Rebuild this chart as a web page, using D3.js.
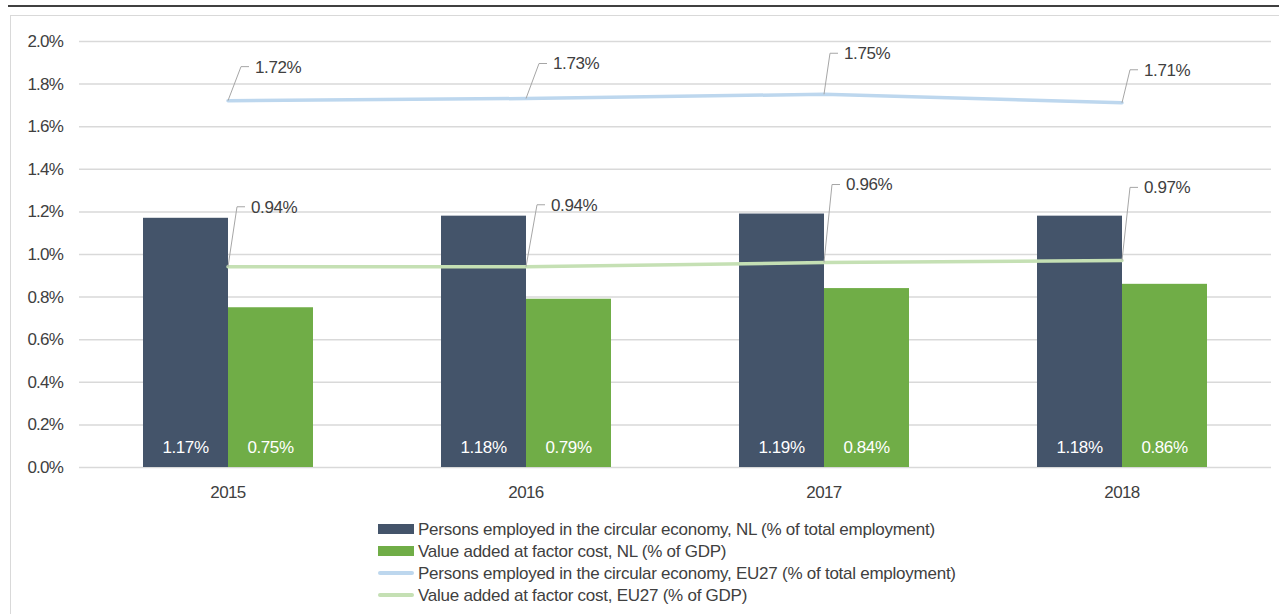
<!DOCTYPE html>
<html>
<head>
<meta charset="utf-8">
<script src="https://cdn.jsdelivr.net/npm/d3@7"></script>
<style>
  body { margin: 0; background: #fff; }
  text { font-family: "Liberation Sans", Arial, sans-serif; fill: #404040; }
</style>
</head>
<body>
<div id="chart"></div>
<script>
var years = ["2015", "2016", "2017", "2018"];
var employedNL = [1.17, 1.18, 1.19, 1.18];
var valueAddedNL = [0.75, 0.79, 0.84, 0.86];
var employedEU = [1.72, 1.73, 1.75, 1.71];
var valueAddedEU = [0.94, 0.94, 0.96, 0.97];
var yTicks = [0, 0.2, 0.4, 0.6, 0.8, 1.0, 1.2, 1.4, 1.6, 1.8, 2.0];
var legendNames = [
  "Persons employed in the circular economy, NL (% of total employment)",
  "Value added at factor cost, NL (% of GDP)",
  "Persons employed in the circular economy, EU27 (% of total employment)",
  "Value added at factor cost, EU27 (% of GDP)"
];

// leader-line label offsets (label anchor relative to point)
var euEmpOffsets = [[13, -34], [13, -35], [6, -41], [8, -33]];
var euValOffsets = [[9, -60], [11, -62], [8, -78], [8, -73]];

var width = 1279, height = 614;
var margin = {left: 79, right: 8, top: 41, bottom: 147};
var fs = 17;

var svg = d3.select("#chart").append("svg")
    .attr("width", width)
    .attr("height", height);

// top rule and frame
svg.append("line")
    .attr("x1", 8).attr("x2", width)
    .attr("y1", 6).attr("y2", 6)
    .attr("stroke", "#000").attr("stroke-width", 1.5);
svg.append("rect")
    .attr("x", 10.5).attr("y", 15.5)
    .attr("width", width).attr("height", height)
    .attr("fill", "none").attr("stroke", "#D9D9D9");

var x = d3.scaleBand()
    .domain(years)
    .range([margin.left, width - margin.right]);

var y = d3.scaleLinear()
    .domain([0, 2.0])
    .range([height - margin.bottom, margin.top]);

var barW = 85;

// gridlines + y labels
var yAxis = d3.axisLeft(y)
    .tickValues(yTicks)
    .tickSize(-(width - margin.right - margin.left))
    .tickPadding(16)
    .tickFormat(function(d) { return d.toFixed(1) + "%"; });

var gy = svg.append("g")
    .attr("transform", "translate(" + margin.left + ",0)")
    .call(yAxis);
gy.select(".domain").remove();
gy.selectAll(".tick line").attr("stroke", "#D9D9D9").attr("stroke-width", 1.5);
gy.selectAll(".tick text")
    .attr("font-size", fs)
    .attr("letter-spacing", -0.8)
    .attr("fill", "#404040");

// x labels
var gx = svg.append("g")
    .attr("transform", "translate(0," + y(0) + ")")
    .call(d3.axisBottom(x).tickSize(0).tickPadding(19));
gx.select(".domain").remove();
gx.selectAll(".tick text")
    .attr("font-size", fs)
    .attr("letter-spacing", -0.6)
    .attr("fill", "#404040");

// bars
function drawBars(vals, color, shift) {
  svg.append("g").selectAll("rect")
      .data(vals)
    .enter().append("rect")
      .attr("x", function(d, i) { return x(years[i]) + x.bandwidth() / 2 + shift; })
      .attr("y", function(d) { return y(d); })
      .attr("width", barW)
      .attr("height", function(d) { return y(0) - y(d); })
      .attr("fill", color);
  svg.append("g").selectAll("text")
      .data(vals)
    .enter().append("text")
      .attr("x", function(d, i) { return x(years[i]) + x.bandwidth() / 2 + shift + barW / 2; })
      .attr("y", y(0) - 20)
      .attr("dy", "0.35em")
      .attr("text-anchor", "middle")
      .attr("font-size", fs)
      .attr("letter-spacing", -0.4)
      .style("fill", "#fff")
      .text(function(d) { return d.toFixed(2) + "%"; });
}
drawBars(employedNL, "#44546A", -barW);
drawBars(valueAddedNL, "#70AD47", 0);

// lines
var line = d3.line()
    .x(function(d, i) { return x(years[i]) + x.bandwidth() / 2; })
    .y(function(d) { return y(d); });

function drawLine(vals, color, offsets) {
  svg.append("path")
      .datum(vals)
      .attr("d", line)
      .attr("fill", "none")
      .attr("stroke", color)
      .attr("stroke-width", 3.5)
      .attr("stroke-linecap", "round");
  var g = svg.append("g");
  vals.forEach(function(d, i) {
    var px = x(years[i]) + x.bandwidth() / 2, py = y(d);
    var lx = px + offsets[i][0], ly = py + offsets[i][1];
    g.append("polyline")
        .attr("points", [px, py, lx, ly, lx + 8, ly].join(","))
        .attr("fill", "none")
        .attr("stroke", "#A6A6A6")
        .attr("stroke-width", 1);
    g.append("text")
        .attr("x", lx + 14)
        .attr("y", ly)
        .attr("dy", "0.35em")
        .attr("font-size", fs)
        .attr("letter-spacing", -0.4)
        .text(d.toFixed(2) + "%");
  });
}
drawLine(employedEU, "#BDD7EE", euEmpOffsets);
drawLine(valueAddedEU, "#C5E0B4", euValOffsets);

// legend
var legendColors = ["#44546A", "#70AD47", "#BDD7EE", "#C5E0B4"];
var legendRows = [529, 551, 573, 595];
var lg = svg.append("g");
legendNames.forEach(function(name, i) {
  if (i < 2) {
    lg.append("rect")
        .attr("x", 378).attr("y", legendRows[i] - 5)
        .attr("width", 36).attr("height", 10)
        .attr("fill", legendColors[i]);
  } else {
    lg.append("line")
        .attr("x1", 380).attr("x2", 412)
        .attr("y1", legendRows[i]).attr("y2", legendRows[i])
        .attr("stroke", legendColors[i])
        .attr("stroke-width", 4)
        .attr("stroke-linecap", "round");
  }
  lg.append("text")
      .attr("x", 418)
      .attr("y", legendRows[i])
      .attr("dy", "0.35em")
      .attr("font-size", fs)
      .attr("letter-spacing", -0.25)
      .text(name);
});
</script>
</body>
</html>
